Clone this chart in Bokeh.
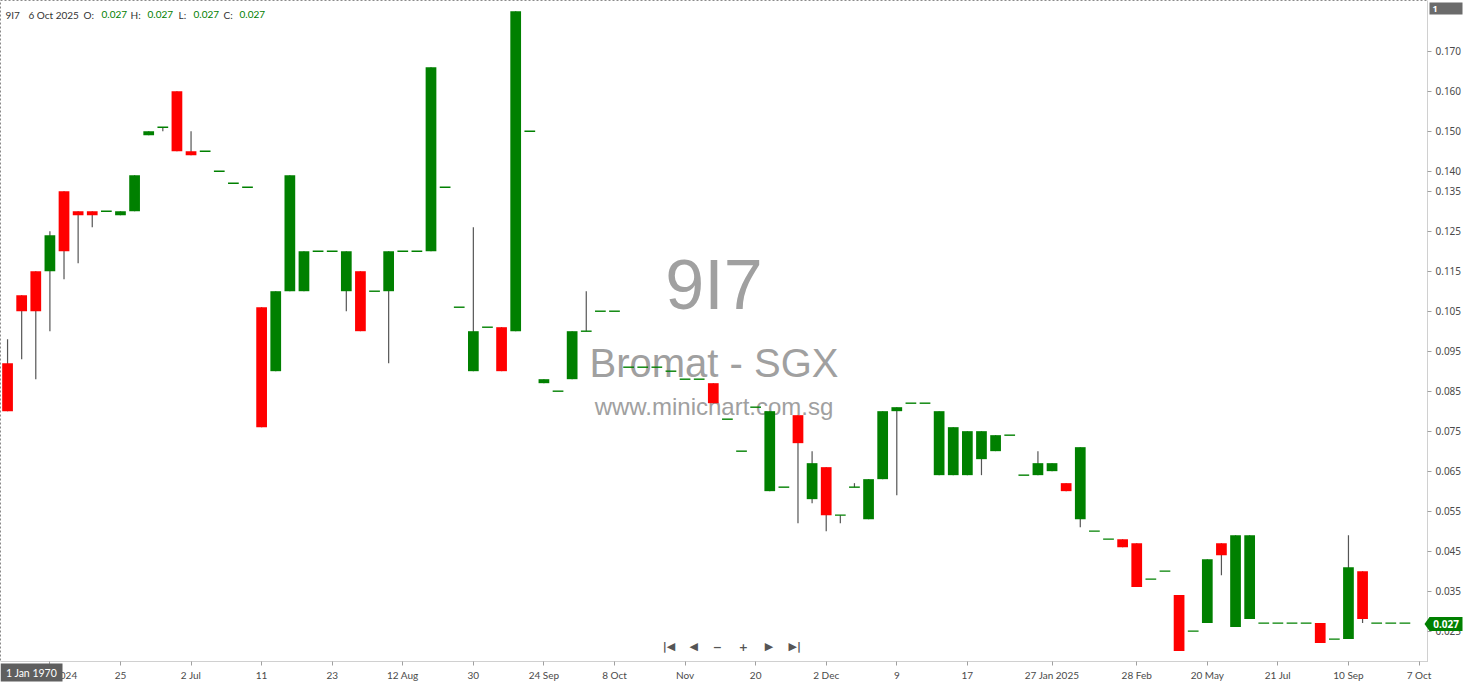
from bokeh.plotting import figure
from bokeh.models import Range1d, FixedTicker, Label, NumeralTickFormatter
from bokeh.core.properties import value
from bokeh.embed import file_html
from bokeh.resources import INLINE
import numpy as np

# ---------------- data ----------------
opens = [0.092, 0.109, 0.115, 0.115, 0.135, 0.130, 0.130, 0.130, 0.129, 0.130,
         0.149, 0.151, 0.160, 0.145, 0.145, 0.140, 0.137, 0.136, 0.106, 0.090,
         0.110, 0.110, 0.120, 0.120, 0.110, 0.115, 0.110, 0.110, 0.120, 0.120,
         0.120, 0.136, 0.106, 0.090, 0.101, 0.101, 0.100, 0.150, 0.087, 0.085,
         0.088, 0.100, 0.105, 0.105, 0.091, 0.091, 0.091, 0.090, 0.088, 0.088,
         0.087, 0.078, 0.070, 0.081, 0.060, 0.061, 0.079, 0.058, 0.066, 0.054,
         0.061, 0.053, 0.063, 0.080, 0.082, 0.082, 0.064, 0.064, 0.064, 0.068,
         0.070, 0.074, 0.064, 0.064, 0.065, 0.062, 0.053, 0.050, 0.048, 0.048,
         0.047, 0.038, 0.040, 0.034, 0.025, 0.027, 0.047, 0.026, 0.028, 0.027,
         0.027, 0.027, 0.027, 0.027, 0.023, 0.023, 0.040, 0.027, 0.027, 0.027]
highs = [0.098, 0.109, 0.115, 0.125, 0.135, 0.130, 0.130, 0.130, 0.130, 0.139,
         0.150, 0.151, 0.160, 0.150, 0.145, 0.140, 0.137, 0.136, 0.106, 0.110,
         0.139, 0.120, 0.120, 0.120, 0.120, 0.115, 0.110, 0.120, 0.120, 0.120,
         0.166, 0.136, 0.106, 0.126, 0.101, 0.101, 0.180, 0.150, 0.088, 0.085,
         0.100, 0.110, 0.105, 0.105, 0.091, 0.091, 0.091, 0.090, 0.088, 0.088,
         0.087, 0.078, 0.070, 0.081, 0.080, 0.061, 0.079, 0.070, 0.066, 0.054,
         0.062, 0.063, 0.080, 0.081, 0.082, 0.082, 0.080, 0.076, 0.075, 0.075,
         0.074, 0.074, 0.064, 0.070, 0.067, 0.062, 0.071, 0.050, 0.048, 0.048,
         0.047, 0.038, 0.040, 0.034, 0.025, 0.043, 0.047, 0.049, 0.049, 0.027,
         0.027, 0.027, 0.027, 0.027, 0.023, 0.049, 0.040, 0.027, 0.027, 0.027]
lows = [0.080, 0.093, 0.088, 0.100, 0.113, 0.117, 0.126, 0.130, 0.129, 0.130,
        0.149, 0.150, 0.145, 0.144, 0.145, 0.140, 0.137, 0.136, 0.076, 0.090,
        0.110, 0.110, 0.120, 0.120, 0.105, 0.100, 0.110, 0.092, 0.120, 0.120,
        0.120, 0.136, 0.106, 0.090, 0.101, 0.090, 0.100, 0.150, 0.087, 0.085,
        0.088, 0.100, 0.105, 0.105, 0.091, 0.091, 0.091, 0.090, 0.088, 0.088,
        0.082, 0.078, 0.070, 0.081, 0.060, 0.061, 0.052, 0.057, 0.050, 0.052,
        0.061, 0.053, 0.063, 0.059, 0.082, 0.082, 0.064, 0.064, 0.064, 0.064,
        0.070, 0.074, 0.064, 0.064, 0.065, 0.060, 0.051, 0.050, 0.048, 0.046,
        0.036, 0.038, 0.040, 0.020, 0.025, 0.027, 0.039, 0.026, 0.028, 0.027,
        0.027, 0.027, 0.027, 0.022, 0.023, 0.023, 0.027, 0.027, 0.027, 0.027]
closes = [0.080, 0.105, 0.105, 0.124, 0.120, 0.129, 0.129, 0.130, 0.130, 0.139,
          0.150, 0.151, 0.145, 0.144, 0.145, 0.140, 0.137, 0.136, 0.076, 0.110,
          0.139, 0.120, 0.120, 0.120, 0.120, 0.100, 0.110, 0.120, 0.120, 0.120,
          0.166, 0.136, 0.106, 0.100, 0.101, 0.090, 0.180, 0.150, 0.088, 0.085,
          0.100, 0.100, 0.105, 0.105, 0.091, 0.091, 0.091, 0.090, 0.088, 0.088,
          0.082, 0.078, 0.070, 0.081, 0.080, 0.061, 0.072, 0.067, 0.054, 0.054,
          0.061, 0.063, 0.080, 0.081, 0.082, 0.082, 0.080, 0.076, 0.075, 0.075,
          0.074, 0.074, 0.064, 0.067, 0.067, 0.060, 0.071, 0.050, 0.048, 0.046,
          0.036, 0.038, 0.040, 0.020, 0.025, 0.043, 0.044, 0.049, 0.049, 0.027,
          0.027, 0.027, 0.027, 0.022, 0.023, 0.041, 0.028, 0.027, 0.027, 0.027]

x_tick_pos = [3, 8, 13, 18, 23, 28, 33, 38, 43, 48, 53, 58, 63, 68, 74, 80, 85, 90, 95, 100]
x_tick_labels = ["18 Jun 2024", "25", "2 Jul", "11", "23", "12 Aug", "30", "24 Sep", "8 Oct", "Nov",
                 "20", "2 Dec", "9", "17", "27 Jan 2025", "28 Feb", "20 May", "21 Jul", "10 Sep", "7 Oct"]
y_tick_vals = [0.025, 0.035, 0.045, 0.055, 0.065, 0.075, 0.085, 0.095, 0.105, 0.115,
               0.125, 0.135, 0.140, 0.150, 0.160, 0.170]

symbol = "9I7"
company = "Bromat - SGX"
site = "www.minichart.com.sg"
last_date = "6 Oct 2025"
cursor_date = "1 Jan 1970"
scale_tag = "1"

# ---------------- derived ----------------
o = np.array(opens); h = np.array(highs); l = np.array(lows); c = np.array(closes)
idx = np.arange(len(o))
flat = np.isclose(o, c)
up = (c > o) & ~flat
down = (c < o) & ~flat

GREEN = "#008000"
RED = "#ff0000"
W, H = 1464, 683
FW = 1428          # frame width (px)
FH = H - 21        # frame height (px)
S = FW / 1440.0
Y0, Y1 = 0.0174, 0.1827

p = figure(width=W, height=H, x_range=Range1d(-0.5, 100.6), y_range=Range1d(Y0, Y1),
           y_axis_location="right", output_backend="svg", toolbar_location=None,
           min_border_left=0, min_border_top=0, min_border_right=W - FW, min_border_bottom=H - FH)
p.xgrid.visible = False
p.ygrid.visible = False
p.outline_line_color = "#8a8a8a"
p.outline_line_dash = "2 2"
p.outline_line_width = 1
p.background_fill_color = "white"
p.border_fill_color = "white"

# watermark
for txt, yv, size in [(symbol, 0.1115, "70px"), (company, 0.0920, "40px"), (site, 0.0812, "24px")]:
    p.add_layout(Label(x=50.05, y=yv, text=txt, text_align="center", text_baseline="middle",
                       text_font="Liberation Sans", text_font_size=size, text_color="#a0a0a0",
                       level="underlay"))

# wicks
p.segment(x0=idx, x1=idx, y0=l, y1=h, line_color="#555555", line_width=1.2)
# bodies
p.vbar(x=idx[up], width=0.76, top=c[up], bottom=o[up], fill_color=GREEN, line_color=None)
p.vbar(x=idx[down], width=0.76, top=o[down], bottom=c[down], fill_color=RED, line_color=None)
# flat candles
p.segment(x0=idx[flat] - 0.38, x1=idx[flat] + 0.38, y0=c[flat], y1=c[flat], line_color=GREEN, line_width=1.4)

# axes
p.yaxis.ticker = FixedTicker(ticks=y_tick_vals)
p.yaxis.formatter = NumeralTickFormatter(format="0.000")
p.xaxis.ticker = FixedTicker(ticks=x_tick_pos)
p.xaxis.major_label_overrides = {k: v for k, v in zip(x_tick_pos, x_tick_labels)}
for ax in (p.xaxis[0], p.yaxis[0]):
    ax.axis_line_color = "#d0d0d0"
    ax.major_tick_line_color = "#a0a0a0"
    ax.major_tick_out = 4
    ax.major_tick_in = 0
    ax.minor_tick_line_color = None
    ax.major_label_text_color = "#4a4a4a"
    ax.major_label_text_font_size = "10px"
    ax.major_label_standoff = 3
p.yaxis.major_label_standoff = 4
p.yaxis.major_label_text_font = "Noto Sans"
p.xaxis.major_label_text_font = "Lato"

# header
header = [(symbol, 5, "#333333"), (last_date, 28, "#333333"), ("O:", 83, "#333333"), (f"{o[-1]:.3f}", 101, GREEN),
          ("H:", 130, "#333333"), (f"{h[-1]:.3f}", 147, GREEN), ("L:", 178, "#333333"), (f"{l[-1]:.3f}", 193, GREEN),
          ("C:", 223, "#333333"), (f"{c[-1]:.3f}", 239, GREEN)]
for txt, xs, col in header:
    p.add_layout(Label(x=xs, y=0.1791, x_units="screen", y_units="data", text=txt, text_color=col,
                       text_font="Lato", text_font_size="10px", text_baseline="middle", text_align="left"))

# navigation icons
for txt, xs in [("|◀", 674), ("◀", 699), ("−", 723), ("+", 749), ("▶", 775), ("▶|", 801)]:
    p.add_layout(Label(x=xs * S, y=15, x_units="screen", y_units="screen", text=txt, text_color="#555555",
                       text_font="DejaVu Sans", text_font_size="11px", text_baseline="middle", text_align="center",
                       text_font_style="bold"))

# ---------------- transparent overlay (separate root) for the tags outside the plot frame ----------------
def ypx(v):
    return FH * (Y1 - v) / (Y1 - Y0)

p2 = figure(width=W, height=H, x_range=Range1d(0, W), y_range=Range1d(H, 0),
            x_axis_location=None, y_axis_location=None, toolbar_location=None, output_backend="svg",
            min_border=0, min_border_left=0, min_border_right=0, min_border_top=0, min_border_bottom=0,
            background_fill_color=None, border_fill_color=None, outline_line_color=None,
            margin=(-H, 0, 0, 0))
p2.grid.visible = False

# last-price tag
ty = ypx(c[-1])
p2.patch(x=[FW - 4, FW + 1, W - 2, W - 2, FW + 1], y=[ty, ty - 7, ty - 7, ty + 7, ty + 7],
         fill_color=GREEN, line_color=None)
p2.text(x=[(FW + 1 + W - 2) / 2], y=[ty], text=[f"{c[-1]:.3f}"], text_align="center", text_baseline="middle",
        text_color="white", text_font=value("Noto Sans"), text_font_style="bold", text_font_size="10px")
# scale tag top right
p2.quad(left=[FW + 1], right=[W - 2], top=[2], bottom=[14], fill_color="#6b6b6b", line_color=None)
p2.text(x=[FW + 4], y=[8], text=[scale_tag], text_align="left", text_baseline="middle",
        text_color="white", text_font=value("Noto Sans"), text_font_style="bold", text_font_size="9px")
# cursor date tag bottom left
p2.quad(left=[0], right=[62], top=[FH + 1], bottom=[FH + 19], fill_color="#5f5f5f", line_color=None)
p2.text(x=[31], y=[FH + 10], text=[cursor_date], text_align="center", text_baseline="middle",
        text_color="white", text_font=value("Lato"), text_font_size="10.5px")

open("out.html", "w").write(file_html([p, p2], INLINE))
